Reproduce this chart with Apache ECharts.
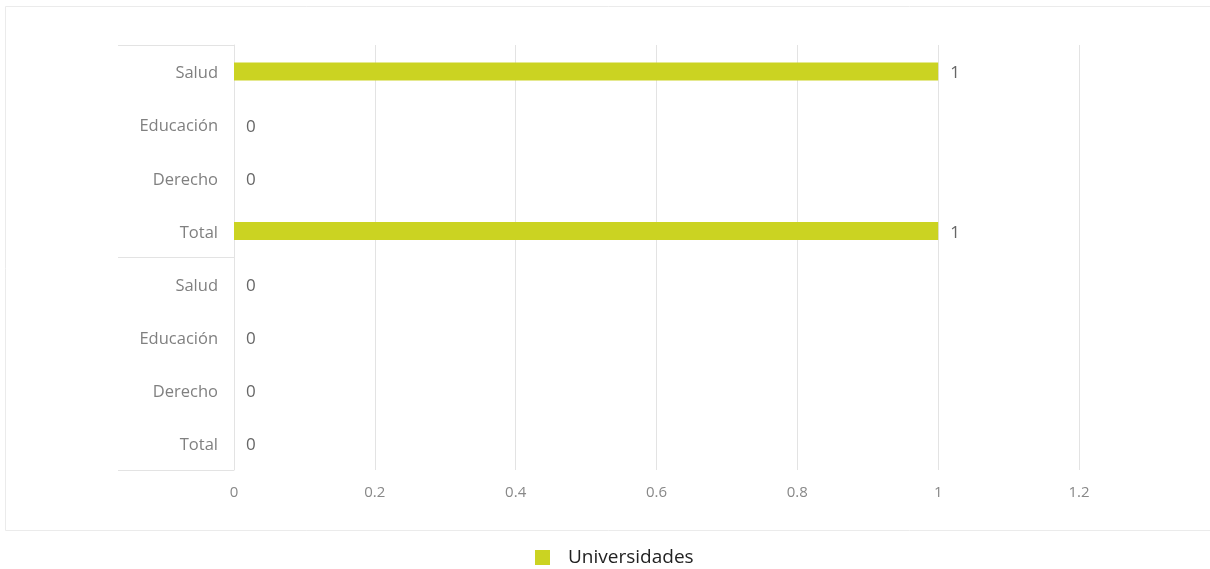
<!DOCTYPE html>
<html>
<head>
<meta charset="utf-8">
<script src="https://cdn.jsdelivr.net/npm/echarts@6/dist/echarts.min.js"></script>
<style>
html,body{margin:0;padding:0;background:#fff;}
#c{width:1210px;height:569px;}
</style>
</head>
<body>
<div id="c"></div>
<script>
var categories = ['Salud','Educación','Derecho','Total','Salud','Educación','Derecho','Total'];
var groups = ['', ''];
var universidades = [1, 0, 0, 1, 0, 0, 0, 0];
var xTicks = [0, 0.2, 0.4, 0.6, 0.8, 1, 1.2];

var chart = echarts.init(document.getElementById('c'));
var font = '"Open Sans", Lato, sans-serif';
chart.setOption({
  animation: false,
  graphic: [{
    type: 'rect', silent: true, z: -1,
    shape: {x: 5.5, y: 6.5, width: 1210, height: 524},
    style: {fill: 'none', stroke: '#ebebeb', lineWidth: 1}
  }],
  legend: {
    data: ['Universidades'],
    top: 543, left: 530,
    icon: 'rect', itemWidth: 15, itemHeight: 15, itemGap: 10,
    textStyle: {color: '#222', fontSize: 19, fontFamily: font, padding: [0, 0, 0, 13]}
  },
  grid: {left: 234, right: 131, top: 45, bottom: 99, containLabel: false},
  xAxis: {
    type: 'value', min: 0, max: 1.2, interval: 0.2,
    axisLine: {show: false}, axisTick: {show: false},
    splitLine: {lineStyle: {color: '#e3e3e3', width: 1}},
    axisLabel: {color: '#888', fontSize: 15, fontFamily: font, margin: 15,
      formatter: function(v){ return String(Math.round(v*10)/10); }}
  },
  yAxis: [{
    type: 'category', data: categories, inverse: true,
    axisLine: {lineStyle: {color: '#e3e3e3'}},
    axisTick: {show: false},
    axisLabel: {color: '#808080', fontSize: 16.5, fontFamily: font, margin: 16,
      formatter: '{a|{value}}',
      rich: {a: {fontSize: 16.5, fontFamily: font, color: '#808080', padding: [4, 0, 0, 0]}}}
  }, {
    type: 'category', data: groups, inverse: true, position: 'left',
    axisLine: {show: false},
    axisTick: {show: true, length: 116, lineStyle: {color: '#e3e3e3'}},
    axisLabel: {show: false}
  }],
  series: [{
    name: 'Universidades', type: 'bar', data: universidades,
    barWidth: 18,
    itemStyle: {color: '#cbd322'},
    label: {show: true, position: 'right', distance: 12, offset: [0, 2], color: '#666', fontSize: 17, fontFamily: font}
  }]
});
</script>
</body>
</html>
